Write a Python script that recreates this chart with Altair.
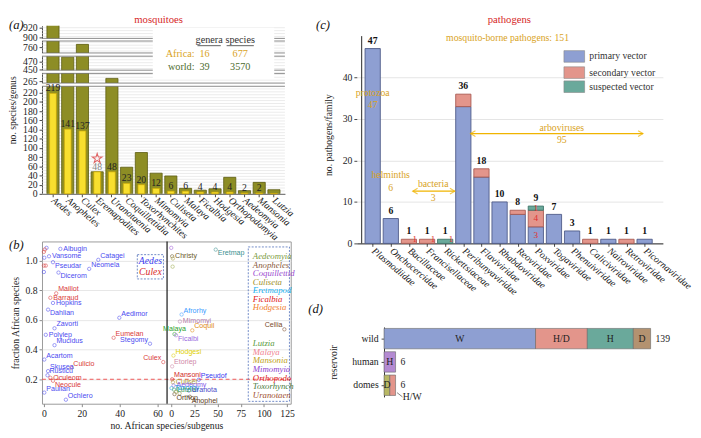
import altair as alt
import numpy as np
import pandas as pd

SERIF = "Liberation Serif, Times New Roman, serif"
SANS = "Liberation Sans, Arial, sans-serif"

# ======================= DATA =======================
# (a) mosquito species per genus
genera = ["Aedes", "Anopheles", "Culex", "Eremapodites", "Uranotaenia", "Coquillettidia",
          "Toxorhynchites", "Mimomyia", "Culiseta", "Malaya", "Ficalbia", "Hodgesia",
          "Orthopodomyia", "Aedeomyia", "Mansonia", "Lutzia"]
world_species = [931, 481, 767, 48, 271, 58, 90, 45, 39, 12, 8, 11, 36, 7, 25, 9]
africa_species = [219, 141, 137, 48, 48, 23, 20, 12, 6, 6, 4, 4, 4, 2, 2, 1]
a_ticks = [0, 20, 40, 60, 80, 100, 120, 140, 160, 180, 200, 220, 265, 450, 470, 760, 900, 920]
summary_region = ["Africa:", "world:"]
summary_genera = [16, 39]
summary_species = [677, 3570]

# (b) fraction of African species per subgenus
left_names = ["", "", "", "", "", "", "", "Albugin", "Vansome", "Catagei", "Neomela", "Pseudar",
              "Dicerom", "Maillot", "Barraud", "Hopkins", "Dahlian", "Aedimor", "Zavorti",
              "Polylep", "Eumelan", "Stegomy", "Mucidus", "Acartom", "Culex", "Culicio",
              "Skusea", "Rusticu", "Oculeom", "Neocule", "Paulian", "Ochlero"]
left_n = [1.4, 0.5, 0, 0.2, 0, 1, 0, 8.7, 2.7, 28.7, 23.9, 4.8, 7.7, 6.5, 3.4, 4.8, 2.2, 39.8,
          5.6, 1, 36.8, 56, 5.6, 0.2, 63, 14.5, 2.2, 1.9, 3.4, 4.8, 0.2, 11.6]
left_frac = [1.087, 1.076, 1.06, 1.02, 0.967, 0.967, 0.924, 1.08, 1.03, 1.006, 0.945, 0.99,
             0.92, 0.78, 0.75, 0.715, 0.67, 0.615, 0.544, 0.50, 0.48, 0.44, 0.43, 0.333,
             0.316, 0.279, 0.255, 0.227, 0.21, 0.19, 0.11, 0.062]
left_genus = ["Aedes", "Culex", "Culex", "Aedes", "Culex", "Culex", "Aedes", "Aedes", "Aedes",
              "Aedes", "Aedes", "Aedes", "Aedes", "Culex", "Culex", "Aedes", "Aedes", "Aedes",
              "Aedes", "Aedes", "Culex", "Aedes", "Aedes", "Aedes", "Culex", "Culex", "Aedes",
              "Aedes", "Culex", "Culex", "Aedes", "Aedes"]
right_names = ["", "Christy", "", "", "Eretmap", "Afrorhy", "Mimomyi", "Coquil", "Malaya",
               "Ficalbi", "Hodgesi", "Etorlep", "Cellia", "Mansoni", "Pseudof", "Culiset",
               "Aedeomy", "Toxorhy", "Lutzia", "Uranota", "Orthop", "Anophel", "", "", "", ""]
right_n = [0, 1, 1.8, 1.5, 48, 11.2, 9.4, 22.7, 3.5, 5.2, 2.4, 1, 122, 1, 29.7, 1.8, 2.5,
           0.3, 3, 19, 3.5, 20, 5, 7, 9, 12]
right_frac = [1.087, 1.03, 1.015, 0.96, 1.075, 0.637, 0.59, 0.53, 0.505, 0.497, 0.36, 0.287,
              0.537, 0.20, 0.197, 0.18, 0.158, 0.14, 0.13, 0.124, 0.10, 0.082, 0.115, 0.135,
              0.105, 0.14]
legend_genera_top = ["Aedeomyia", "Anopheles", "Coquillettid", "Culiseta", "Eretmapod",
                     "Ficalbia", "Hodgesia"]
legend_genera_bottom = ["Lutzia", "Malaya", "Mansonia", "Mimomyia", "Orthopodo", "Toxorhynch",
                        "Uranotaen"]

# (c) pathogens per family
families = ["Plasmodiidae", "Onchocercidae", "Bacillaceae", "Francisellaceae", "Rickettsiaceae",
            "Peribunyaviridae", "Flaviviridae", "Rhabdoviridae", "Reoviridae", "Poxviridae",
            "Togaviridae", "Phenuiviridae", "Caliciviridae", "Nairoviridae", "Retroviridae",
            "Picornaviridae"]
primary = [47, 6, 0, 0, 0, 33, 16, 10, 7, 4, 7, 3, 0, 1, 0, 1]
secondary = [0, 0, 1, 1, 0, 3, 2, 0, 1, 4, 0, 0, 1, 0, 1, 0]
suspected = [0, 0, 0, 0, 1, 0, 0, 0, 0, 1, 0, 0, 0, 0, 0, 0]
vectors = ["primary vector", "secondary vector", "suspected vector"]
red_note_family = [2, 3, 4]
red_note_text = ["1", "1", "1"]
pox_note_value = [8.6, 6.1, 1.95]
pox_note_text = ["1", "4", "3"]
groups = ["protozoa", "helminths", "bacteria", "arboviruses"]
group_counts = [47, 6, 3, 95]
total_pathogens = 151

# (d) reservoirs
reservoirs = ["wild", "human", "domes"]
d_res = ["wild", "wild", "wild", "wild", "human", "domes", "domes"]
d_type = ["W", "H/D", "H", "D", "H", "D", "H/W"]
d_count = [79, 27, 24, 9, 6, 3, 3]
d_totals = [139, 6, 6]

# ======================= STYLE / LAYOUT =======================
GOLD = "#d9a31e"
ARROW = "#f0b400"
RED = "#d62728"
dummy = pd.DataFrame({"z": [0]})


def letter(txt, x, y):
    return alt.Chart(dummy).mark_text(text=txt, font=SERIF, fontStyle="italic", fontSize=13,
                                      align="left", baseline="middle", color="#111").encode(
        x=alt.value(x), y=alt.value(y))


def head_title(txt, x):
    return alt.Chart(dummy).mark_text(text=txt, font=SERIF, fontSize=11, color=RED,
                                      align="center", baseline="middle").encode(
        x=alt.value(x), y=alt.value(-6))


# ---------------- (a) ----------------
A_W, A_H = 250, 173
A_DOM = [0, 234.2, 260.8, 281.9, 447.5, 483.5, 747.3, 774.7, 897.4, 923.4]
A_RNG = [173, 62.3, 59, 49, 45.7, 31.3, 28, 15.7, 13, 0]
A_BREAKS = [(234.2, 260.8), (281.9, 447.5), (483.5, 747.3), (774.7, 897.4)]
a_y = alt.Scale(domain=A_DOM, range=A_RNG, nice=False, zero=False)
a_yaxis = alt.Axis(values=a_ticks, title="no. species/genus", grid=False, tickSize=3,
                   labelPadding=2, titlePadding=5, labelOverlap=False)
a_xaxis = alt.Axis(title=None, labelAngle=40, labelAlign="left", labelBaseline="middle",
                   labelFontStyle="italic", labelPadding=2, tickSize=3, labelOverlap=False)
X_A = alt.X("genus:N", sort=genera, scale=alt.Scale(paddingInner=0, paddingOuter=0.245),
            axis=a_xaxis)

px = np.arange(A_H, -0.1, -3.0)
gvals = np.interp(px, A_RNG[::-1], A_DOM[::-1])
gvals = [v for v in gvals if not any(lo - 1 <= v <= hi + 1 for lo, hi in A_BREAKS)]
a_grid = alt.Chart(pd.DataFrame({"g": gvals})).mark_rule(color="#dcdcdc", strokeWidth=0.6).encode(
    y=alt.Y("g:Q", scale=a_y, axis=a_yaxis))

a_df = pd.DataFrame({"genus": genera, "world": world_species, "africa": africa_species})
a_df["lab_col"] = ["#888" if g == "Eremapodites" else "#222" for g in genera]

a_world = alt.Chart(a_df).mark_bar(size=12.5, color="#8d8d25", stroke="#5a5a10",
                                   strokeWidth=0.8, clip=True).encode(
    x=X_A, y=alt.Y("world:Q", scale=a_y, axis=a_yaxis))
a_africa = alt.Chart(a_df).mark_bar(size=7, color="#f8df2f", stroke="#c9a300",
                                    strokeWidth=0.7).encode(
    x=X_A, y=alt.Y("africa:Q", scale=a_y, axis=a_yaxis))
brk_df = pd.DataFrame({"lo": [b[0] for b in A_BREAKS], "hi": [b[1] for b in A_BREAKS]})
a_brk = alt.Chart(brk_df).mark_rect(color="white").encode(
    y=alt.Y("lo:Q", scale=a_y, axis=a_yaxis), y2="hi:Q")
a_brk_lo = alt.Chart(brk_df).mark_rule(color="#6a6a6a", strokeWidth=0.8).encode(
    y=alt.Y("lo:Q", scale=a_y, axis=a_yaxis))
a_brk_hi = alt.Chart(brk_df).mark_rule(color="#6a6a6a", strokeWidth=0.8).encode(
    y=alt.Y("hi:Q", scale=a_y, axis=a_yaxis))
a_box = alt.Chart(dummy).mark_rect(color="white").encode(
    x=alt.value(114), x2=alt.value(239), y=alt.value(2), y2=alt.value(54))
a_lab = alt.Chart(a_df).transform_filter("datum.africa > 1").mark_text(
    fontSize=10, baseline="bottom", dy=0).encode(
    x=X_A, y=alt.Y("africa:Q", scale=a_y, axis=a_yaxis), text="africa:Q",
    color=alt.Color("lab_col:N", scale=None))
STAR = "M0,-1L0.2245,-0.309L0.951,-0.309L0.363,0.118L0.588,0.809L0,0.382L-0.588,0.809L-0.363,0.118L-0.951,-0.309L-0.2245,-0.309Z"
a_star = alt.Chart(pd.DataFrame({"genus": ["Eremapodites"], "v": [77]})).mark_point(
    shape=STAR, size=110, filled=False, color=RED, strokeWidth=1.1).encode(
    x=X_A, y=alt.Y("v:Q", scale=a_y, axis=a_yaxis))

a_text_layers = []
for t, x in [("genera", 172), ("species", 204)]:
    a_text_layers.append(alt.Chart(dummy).mark_text(text=t, fontSize=10.5, color="#333",
                                                    baseline="middle").encode(
        x=alt.value(x), y=alt.value(15)))
a_text_layers.append(alt.Chart(dummy).mark_rule(color="#333", strokeWidth=0.8).encode(
    x=alt.value(160), x2=alt.value(184), y=alt.value(20.5)))
a_text_layers.append(alt.Chart(dummy).mark_rule(color="#333", strokeWidth=0.8).encode(
    x=alt.value(190), x2=alt.value(218), y=alt.value(20.5)))
row_cols = ["#d9a31e", "#4d6b2d"]
for k in range(2):
    yy = 29 + 14 * k
    a_text_layers.append(alt.Chart(dummy).mark_text(text=summary_region[k], fontSize=10.5,
                                                    align="right", baseline="middle",
                                                    color=row_cols[k]).encode(
        x=alt.value(157), y=alt.value(yy)))
    a_text_layers.append(alt.Chart(dummy).mark_text(text=str(summary_genera[k]), fontSize=10.5,
                                                    align="left", baseline="middle",
                                                    color=row_cols[k]).encode(
        x=alt.value(162), y=alt.value(yy)))
    a_text_layers.append(alt.Chart(dummy).mark_text(text=str(summary_species[k]), fontSize=10.5,
                                                    align="center", baseline="middle",
                                                    color=row_cols[k]).encode(
        x=alt.value(204), y=alt.value(yy)))

a_chart = alt.layer(a_grid, a_world, a_africa, a_brk, a_brk_lo, a_brk_hi, a_box,
                    *a_text_layers, a_lab, a_star, letter("(a)", -34, -1),
                    head_title("mosquitoes", 120)).properties(width=A_W, height=A_H)

# ---------------- (b) ----------------
B_W, B_H = 256, 167
b_x = alt.Scale(domain=[-1, 65, 995.5, 1128.9], range=[0, 128.7, 128.7, 256], nice=False,
                zero=False)
b_y = alt.Scale(domain=[0.035, 1.13], nice=False, zero=False)
b_xaxis = alt.Axis(values=[0, 20, 40, 60, 1000, 1025, 1050, 1075, 1100, 1125],
                   labelExpr="datum.value >= 500 ? datum.value - 1000 : datum.value",
                   title="no. African species/subgenus", grid=False, domain=False, tickSize=3,
                   labelOverlap=False, tickColor="#888", titlePadding=3, labelPadding=2)
b_yaxis = alt.Axis(values=[0.2, 0.4, 0.6, 0.8, 1.0], format=".1f",
                   title="fraction African species", grid=True, gridColor="#e6e6e6",
                   domain=False, tickSize=3, tickColor="#888", titlePadding=5)


def XB(f):
    return alt.X(f, scale=b_x, axis=b_xaxis)


def YB(f):
    return alt.Y(f, scale=b_y, axis=b_yaxis)


genus_col = {"Aedes": "#4b4bf0", "Culex": "#d93a3a"}
right_cols = ["#a05ad8", "#6b5a2a", "#a8a040", "#9aa84a", "#3a9090", "#3d9bff", "#b07aa8",
              "#e08a10", "#2ca02c", "#9a6ae0", "#e0d000", "#d088a8", "#7a4a2a", "#d02828",
              "#3838f0", "#a89a30", "#8a5ae8", "#22aadd", "#3a9a5a", "#4a4ac8", "#5a4020",
              "#5a3a1a", "#a0a040", "#40b0a0", "#8a8a40", "#5a9ad0"]
anchor = {"Albugin": "e", "Vansome": "e", "Catagei": "ne", "Neomela": "ne", "Pseudar": "se",
          "Dicerom": "se", "Maillot": "ne", "Barraud": "e", "Hopkins": "e", "Dahlian": "se",
          "Aedimor": "ne", "Zavorti": "ne", "Polylep": "e", "Eumelan": "ne", "Stegomy": "nw",
          "Mucidus": "ne", "Acartom": "ne", "Culex": "nw", "Culicio": "ne", "Skusea": "ne",
          "Rusticu": "ne", "Oculeom": "e", "Neocule": "se", "Paulian": "ne", "Ochlero": "ne",
          "Christy": "e", "Eretmap": "se", "Afrorhy": "ne", "Mimomyi": "e", "Coquil": "ne",
          "Malaya": "n", "Ficalbi": "se", "Hodgesi": "ne", "Etorlep": "ne", "Cellia": "nw",
          "Mansoni": "ne", "Pseudof": "ne", "Culiset": "e", "Aedeomy": "e", "Toxorhy": "e",
          "Lutzia": "e", "Uranota": "e", "Orthop": "se", "Anophel": "se"}
b_df = pd.DataFrame({
    "name": left_names + right_names,
    "xp": list(left_n) + [1000 + v for v in right_n],
    "frac": left_frac + right_frac,
    "col": [genus_col[g] for g in left_genus] + right_cols,
})
b_df["anc"] = [anchor.get(n, "") for n in b_df["name"]]

b_rule_red = alt.Chart(dummy).mark_rule(color="#ee4444", strokeDash=[4, 3], strokeWidth=0.9).encode(
    y=alt.Y(datum=0.2, scale=b_y, axis=b_yaxis))
b_div = alt.Chart(dummy).mark_rule(color="#111", strokeWidth=1.2).encode(
    x=alt.X(datum=65, scale=b_x, axis=b_xaxis))
b_pts = alt.Chart(b_df).mark_point(shape="circle", size=12, filled=False, strokeWidth=0.8).encode(
    x=XB("xp:Q"), y=YB("frac:Q"), color=alt.Color("col:N", scale=None))
anc_style = {"e": ("left", 3, 0), "ne": ("left", 2, -4), "se": ("left", 2, 4),
             "nw": ("right", -2, -4), "n": ("center", 0, -5)}
b_texts = []
for k, (al, dx, dy) in anc_style.items():
    b_texts.append(alt.Chart(b_df).transform_filter(alt.datum.anc == k).mark_text(
        font=SANS, fontSize=7.3, align=al, dx=dx, dy=dy, baseline="middle").encode(
        x=XB("xp:Q"), y=YB("frac:Q"), text="name:N", color=alt.Color("col:N", scale=None)))

leg_cols_top = ["#7a9a40", "#8a5a3a", "#9a4ad0", "#a0902a", "#20b0f0", "#e02020", "#f08030"]
leg_cols_bot = ["#5a9a40", "#f08090", "#c0a020", "#8a40d0", "#e02020", "#4a7a40", "#a05030"]
leg_df = pd.DataFrame({
    "g": legend_genera_top + legend_genera_bottom,
    "y": [1.028 - 0.0571 * i for i in range(7)] + [0.442 - 0.0577 * i for i in range(7)],
    "col": leg_cols_top + leg_cols_bot,
})
leg_df["x"] = 1088.0
b_leg = alt.Chart(leg_df).mark_text(font=SERIF, fontStyle="italic", fontSize=9, align="left",
                                    baseline="middle").encode(
    x=XB("x:Q"), y=YB("y:Q"), text="g:N", color=alt.Color("col:N", scale=None))
box_df = pd.DataFrame({"x0": [49.3, 1083.1], "x1": [63.1, 1127.5], "y0": [0.877, 0.051],
                       "y1": [1.041, 1.093]})
b_box = alt.Chart(box_df).mark_rect(fill=None, stroke="#4a6ab8", strokeDash=[2, 1.5],
                                    strokeWidth=0.8).encode(
    x=XB("x0:Q"), x2="x1:Q", y=YB("y0:Q"), y2="y1:Q")
ac_df = pd.DataFrame({"t": ["Aedes", "Culex"], "x": [56.2, 56.2], "y": [1.0, 0.92],
                      "col": ["#3b3bf0", "#d92a2a"]})
b_ac = alt.Chart(ac_df).mark_text(font=SERIF, fontStyle="italic", fontSize=10,
                                  baseline="middle").encode(
    x=XB("x:Q"), y=YB("y:Q"), text="t:N", color=alt.Color("col:N", scale=None))

b_chart = alt.layer(b_rule_red, b_div, b_box, b_pts, *b_texts, b_leg, b_ac,
                    letter("(b)", -34, 4)).properties(
    width=B_W, height=B_H, view=alt.ViewBackground(stroke="#999", strokeWidth=1))

# ---------------- (c) ----------------
C_W, C_H = 315, 224
c_x = alt.Scale(domain=[-0.607, 15.74], nice=False, zero=False)
c_y = alt.Scale(domain=[0, 52.5], nice=False, zero=False)
fam_js = "[" + ",".join("'" + f + "'" for f in families) + "]"
c_xaxis = alt.Axis(values=list(range(16)), labelExpr=fam_js + "[datum.value]", title=None,
                   labelAngle=40, labelAlign="left", labelBaseline="middle",
                   labelFontStyle="italic", grid=False, tickSize=3, labelOverlap=False,
                   labelPadding=3, domainColor="#222")
c_yaxis = alt.Axis(values=[0, 10, 20, 30, 40], title="no. pathogens/family", grid=True,
                   gridColor="#e4e4e4", tickSize=3, titlePadding=9, domain=False)


def XC(f):
    return alt.X(f, scale=c_x, axis=c_xaxis)


def YC(f):
    return alt.Y(f, scale=c_y, axis=c_yaxis)


vec_fill = dict(zip(vectors, ["#8e9fd2", "#e3958b", "#6aa99b"]))
vec_stroke = dict(zip(vectors, ["#4d5a86", "#a85a52", "#3d7468"]))
rows = []
for i, f in enumerate(families):
    for k, (vname, arr) in enumerate(zip(vectors, [primary, secondary, suspected])):
        rows.append({"i": i, "family": f, "vector": vname, "n": arr[i], "k": k})
c_long = pd.DataFrame(rows)
c_long["fill"] = c_long["vector"].map(vec_fill)
c_long["strk"] = c_long["vector"].map(vec_stroke)
c_bars = alt.Chart(c_long).transform_filter("datum.n > 0").mark_bar(size=15.7, strokeWidth=0.9).encode(
    x=XC("i:Q"), y=alt.Y("n:Q", stack="zero", scale=c_y, axis=c_yaxis),
    color=alt.Color("fill:N", scale=None), stroke=alt.Stroke("strk:N", scale=None),
    order=alt.Order("k:Q"))
c_axisline = alt.Chart(dummy).mark_rule(color="#222", strokeWidth=1).encode(
    x=alt.X(datum=-0.607, scale=c_x, axis=c_xaxis), y=alt.Y(datum=0, scale=c_y, axis=c_yaxis),
    y2=alt.Y2(datum=50))
c_tot_df = pd.DataFrame({"i": list(range(16)),
                         "t": [p + s + u for p, s, u in zip(primary, secondary, suspected)]})
c_tot = alt.Chart(c_tot_df).mark_text(fontSize=10, fontWeight="bold", baseline="bottom", dy=-3,
                                      color="#111").encode(x=XC("i:Q"), y=YC("t:Q"), text="t:Q")
c_red1 = alt.Chart(pd.DataFrame({"i": red_note_family, "y": [1.0] * 3, "t": red_note_text})).mark_text(
    fontSize=9, color="#e03030", dx=6, baseline="middle").encode(x=XC("i:Q"), y=YC("y:Q"), text="t:N")
c_red2 = alt.Chart(pd.DataFrame({"i": [9] * 3, "y": pox_note_value, "t": pox_note_text})).mark_text(
    fontSize=9.5, color="#e03030", baseline="middle").encode(x=XC("i:Q"), y=YC("y:Q"), text="t:N")

leg_c = pd.DataFrame({"vector": vectors, "y": [45.1, 41.2, 37.8]})
leg_c["y0"] = leg_c["y"] - 1.4
leg_c["y1"] = leg_c["y"] + 1.4
leg_c["x0"] = 10.55
leg_c["x1"] = 11.69
leg_c["xt"] = 11.95
leg_c["fill"] = leg_c["vector"].map(vec_fill)
c_leg_r = alt.Chart(leg_c).mark_rect(strokeWidth=0.6, stroke="#888").encode(
    x=XC("x0:Q"), x2="x1:Q", y=YC("y0:Q"), y2="y1:Q", color=alt.Color("fill:N", scale=None))
c_leg_t = alt.Chart(leg_c).mark_text(fontSize=10, align="left", baseline="middle",
                                     color="#333").encode(
    x=XC("xt:Q"), y=YC("y:Q"), text="vector:N")

ann = pd.DataFrame({
    "t": ["mosquito-borne pathogens: " + str(total_pathogens)] + groups + [str(c) for c in group_counts],
    "x": [7.44, 0, 0.99, 3.34, 10.43, 0, 0.99, 3.34, 10.43],
    "y": [49.6, 36.3, 16.4, 14.3, 27.9, 33.3, 13.3, 11.0, 24.9],
})
c_ann = alt.Chart(ann).mark_text(fontSize=10, color=GOLD, baseline="middle").encode(
    x=XC("x:Q"), y=YC("y:Q"), text="t:N")
arr_df = pd.DataFrame({"x1": [2.21, 5.40], "x2": [4.53, 14.91], "y": [12.6, 26.5]})
c_arr = alt.Chart(arr_df).mark_rule(color=ARROW, strokeWidth=1.2).encode(
    x=XC("x1:Q"), x2="x2:Q", y=YC("y:Q"))
c_hl = alt.Chart(arr_df).mark_point(shape="M2,-1.2L0,0L2,1.2", size=25, filled=False,
                                    color=ARROW, strokeWidth=1.2).encode(x=XC("x1:Q"), y=YC("y:Q"))
c_hr = alt.Chart(arr_df).mark_point(shape="M-2,-1.2L0,0L-2,1.2", size=25, filled=False,
                                    color=ARROW, strokeWidth=1.2).encode(x=XC("x2:Q"), y=YC("y:Q"))

c_chart = alt.layer(c_bars, c_axisline, c_tot, c_red1, c_red2, c_leg_r, c_leg_t, c_ann, c_arr,
                    c_hl, c_hr, letter("(c)", -42, -1),
                    head_title("pathogens", 157)).properties(width=C_W, height=C_H)

# ---------------- (d) ----------------
D_W, D_H = 315, 72
d_x = alt.Scale(domain=[-14.2, 145.4], nice=False, zero=False)
d_y = alt.Scale(domain=reservoirs, paddingInner=0.125, paddingOuter=0.0625)
d_yaxis = alt.Axis(title="reservoir", offset=-28, tickSize=3, labelPadding=3, titlePadding=14,
                   domainColor="#333", labelColor="#222")


def XD(f):
    return alt.X(f, scale=d_x, axis=None)


def YD(f):
    return alt.Y(f, scale=d_y, axis=d_yaxis, sort=reservoirs)


seg_cols = ["#8e9fd2", "#e3958b", "#6aa99b", "#b39270", "#b48ad2", "#b8b864", "#e3958b"]
d_df = pd.DataFrame({"res": d_res, "type": d_type, "n": d_count})
d_df["k"] = d_df.groupby("res").cumcount()
d_df["col"] = seg_cols
d_base = alt.Chart(d_df).transform_stack(stack="n", groupby=["res"], as_=["x0", "x1"],
                                         sort=[alt.SortField("k", order="ascending")])
d_bars = d_base.mark_bar(stroke="#666", strokeWidth=0.6).encode(
    x=XD("x0:Q"), x2="x1:Q", y=YD("res:N"), color=alt.Color("col:N", scale=None))
d_lab = d_base.transform_filter("datum.type != 'H/W'").transform_calculate(
    xm="(datum.x0 + datum.x1) / 2").mark_text(fontSize=10, color="#222", baseline="middle").encode(
    x=XD("xm:Q"), y=YD("res:N"), text="type:N")
d_tot = alt.Chart(pd.DataFrame({"res": reservoirs, "t": d_totals})).mark_text(
    fontSize=10, align="left", dx=5, baseline="middle", color="#222").encode(
    x=XD("t:Q"), y=YD("res:N"), text="t:Q")
d_hw = alt.Chart(pd.DataFrame({"res": ["domes"], "x": [9.8], "t": ["H/W"]})).mark_text(
    fontSize=10, align="left", baseline="middle", dy=12.5, color="#222").encode(
    x=XD("x:Q"), y=YD("res:N"), text="t:N")
d_lead = alt.Chart(pd.DataFrame({"res": ["domes"], "x": [8.2]})).mark_point(
    shape="M-1.4,-1.1L1.4,1.1", size=16, filled=False, color="#333", strokeWidth=0.9,
    yOffset=9.8).encode(x=XD("x:Q"), y=YD("res:N"))

d_chart = alt.layer(d_bars, d_lab, d_tot, d_hw, d_lead, letter("(d)", -50, -18)).properties(
    width=D_W, height=D_H)

left = alt.vconcat(a_chart, b_chart, spacing=49, bounds="flush")
right = alt.vconcat(c_chart, d_chart, spacing=86, bounds="flush")
chart = alt.hconcat(left, right, spacing=13).properties(padding=0).configure(
    font=SERIF).configure_view(stroke=None).configure_axis(
    labelFont=SERIF, titleFont=SERIF, labelFontSize=10, titleFontSize=10,
    titleFontWeight="normal", labelColor="#222", titleColor="#222", tickColor="#444",
    domainColor="#444").configure_text(font=SERIF)

chart.save("out.html", embed_options={"renderer": "svg", "actions": False})
